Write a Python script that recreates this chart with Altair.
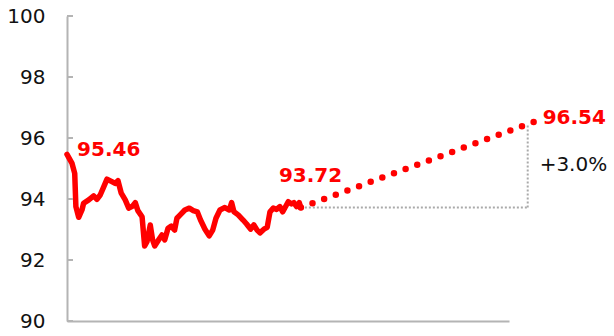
import altair as alt
import pandas as pd

# historical series (index, value)
hist_t = [0, 2.1, 3.3, 3.8, 5.0, 6.4, 7.1, 9.3, 11.4, 12.8, 14.2, 15.7, 17.1, 19.2, 20.6, 21.8,
          23.2, 24.9, 26.4, 28.1, 29.2, 30.3, 32.1, 33.2, 34.2, 35.6, 36.6, 37.5, 39.2, 40.6,
          41.8, 43.2, 44.6, 46.0, 47.0, 48.4, 50.4, 52.3, 54.0, 55.7, 57.1, 59.0, 60.8, 62.3,
          63.7, 65.4, 67.5, 69.4, 70.4, 71.4, 73.2, 75.3, 76.8, 78.5, 79.9, 81.3, 82.5, 84.2,
          85.6, 86.8, 88.2, 89.6, 91.0, 92.2, 93.6, 94.6, 96.0, 97.0, 98.2, 99.3, 100]
hist_v = [95.46, 95.18, 94.84, 93.75, 93.40, 93.64, 93.86, 93.97, 94.10, 93.99, 94.13, 94.40,
          94.65, 94.57, 94.51, 94.60, 94.19, 93.97, 93.70, 93.77, 93.88, 93.62, 93.42, 92.46,
          92.60, 93.15, 92.66, 92.46, 92.66, 92.82, 92.66, 93.04, 93.11, 92.98, 93.37, 93.48,
          93.64, 93.70, 93.62, 93.58, 93.31, 93.01, 92.79, 92.98, 93.37, 93.64, 93.72, 93.64,
          93.88, 93.58, 93.48, 93.31, 93.18, 93.01, 93.15, 92.98, 92.89, 93.01, 93.07, 93.58,
          93.70, 93.66, 93.75, 93.58, 93.77, 93.91, 93.84, 93.88, 93.75, 93.88, 93.72]

# projection
proj_t = [100, 200]
proj_v = [93.72, 96.54]

# guide lines
guide_h_t = [100, 197]
guide_h_v = [93.72, 93.72]
guide_v_t = [197, 197]
guide_v_v = [93.72, 96.45]

y_ticks = [90, 92, 94, 96, 98, 100]

# annotations
red_labels = ["95.46", "93.72", "96.54"]
red_label_t = [4.3, 90.6, 203.4]
red_label_v = [95.61, 94.76, 96.64]
change_label = ["+3.0%"]
change_t = [202.1]
change_v = [95.11]

FONT = "DejaVu Sans"
xs = alt.Scale(domain=[0, 189], nice=False, zero=False)
ys = alt.Scale(domain=[90, 100], nice=False, zero=False)

def X():
    return alt.X("t:Q", scale=xs, title=None)

def Y():
    return alt.Y("v:Q", scale=ys, title=None)

hist = alt.Chart(pd.DataFrame({"t": hist_t, "v": hist_v})).mark_line(
    color="#ff0000", strokeWidth=5.5, strokeJoin="round", strokeCap="round"
).encode(x=X(), y=Y())

proj = alt.Chart(pd.DataFrame({"t": proj_t, "v": proj_v})).mark_line(
    color="#ff0000", strokeWidth=6.5, strokeCap="round", strokeDash=[0, 12.4]
).encode(x=X(), y=Y())

gh = alt.Chart(pd.DataFrame({"t": guide_h_t, "v": guide_h_v})).mark_line(
    color="#aaaaaa", strokeWidth=2, strokeDash=[2, 2]
).encode(x=X(), y=Y())

gv = alt.Chart(pd.DataFrame({"t": guide_v_t, "v": guide_v_v})).mark_line(
    color="#aaaaaa", strokeWidth=2, strokeDash=[2, 2]
).encode(x=X(), y=Y())

ticks = alt.Chart(pd.DataFrame({"v": y_ticks})).mark_rule(
    color="#b4b4b4", strokeWidth=2
).encode(y=Y(), x=alt.value(0), x2=alt.value(6))

reds = alt.Chart(pd.DataFrame({"t": red_label_t, "v": red_label_v, "s": red_labels})).mark_text(
    color="#ff0000", font=FONT, fontSize=20, fontWeight="bold", align="left", baseline="middle"
).encode(x=X(), y=Y(), text="s:N")

chg = alt.Chart(pd.DataFrame({"t": change_t, "v": change_v, "s": change_label})).mark_text(
    color="#111111", font=FONT, fontSize=20, align="left", baseline="middle"
).encode(x=X(), y=Y(), text="s:N")

chart = alt.layer(hist, gh, gv, proj, ticks, reds, chg).properties(
    width=442, height=305,
    padding={"left": 67, "top": 16, "right": 105, "bottom": 15},
    autosize=alt.AutoSizeParams(type="none"),
).configure_view(stroke=None).configure_axisX(
    labels=False, ticks=False, grid=False, domainColor="#b4b4b4", domainWidth=2
).configure_axisY(
    ticks=False, tickSize=0, grid=False, domainColor="#b4b4b4", domainWidth=2,
    tickCount=6, labelFontSize=20, labelFont=FONT, labelColor="#111111", labelPadding=22
)

chart.save("out.html", embed_options={"renderer": "svg", "actions": False})
